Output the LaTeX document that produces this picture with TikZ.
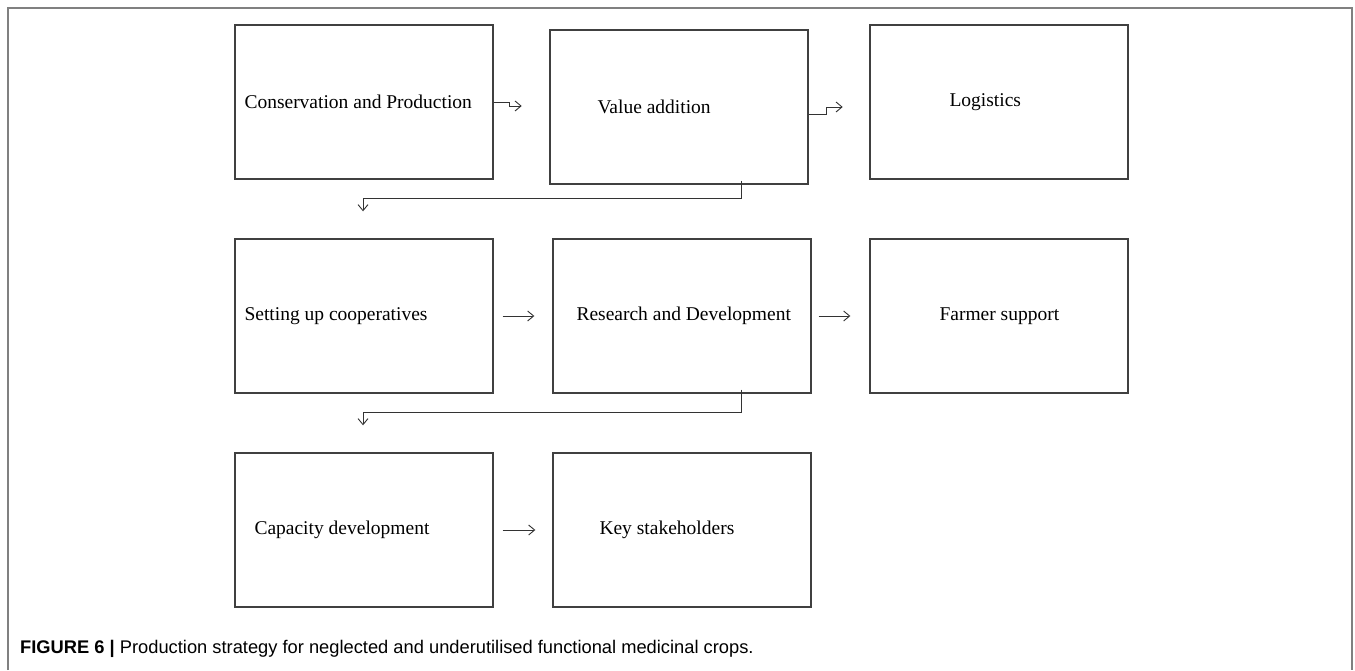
\documentclass[tikz,border=0pt]{standalone}
\usepackage{fontspec}
\setmainfont{Liberation Serif}
\newfontfamily\capfont{Liberation Sans}
\usetikzlibrary{arrows.meta, positioning}

\tikzset{
  box/.style={draw=black!75, line width=1.4pt, minimum width=258pt, minimum height=154pt, inner sep=0pt},
  lbl/.style={font=\fontsize{19.5}{23}\selectfont, inner sep=0pt},
  conn/.style={draw=black!80, line width=0.9pt},
  >={Straight Barb[length=6pt,width=10pt]}
}

\begin{document}
\begin{tikzpicture}[x=1pt,y=1pt]
\useasboundingbox (0,0) rectangle (1355,670);
% frame, open at the bottom
\draw[black!50, line width=1.5pt] (8,0) -- (8,662) -- (1352,662) -- (1352,0);

% row 1
\node[box] (cons) at (364,568) {};
\node[box] (value) at (679,563) {};
\node[box] (logi) at (999,568) {};
\node[lbl, right=10pt of cons.west] (consT) {Conservation and Production};
\node[lbl, right=48pt of value.west] (valueT) {Value addition};
\node[lbl, right=80pt of logi.west] (logiT) {Logistics};

% row 2
\node[box] (coop) at (364,354) {};
\node[box] (rnd) at (682,354) {};
\node[box] (farm) at (999,354) {};
\node[lbl, right=10pt of coop.west] (coopT) {Setting up cooperatives};
\node[lbl, right=24pt of rnd.west] (rndT) {Research and Development};
\node[lbl, right=70pt of farm.west] (farmT) {Farmer support};

% row 3
\node[box] (capa) at (364,140) {};
\node[box] (stake) at (682,140) {};
\node[lbl, right=20pt of capa.west] (capaT) {Capacity development};
\node[lbl, right=47pt of stake.west] (stakeT) {Key stakeholders};

% connectors
\coordinate (a1) at ([xshift=28pt,yshift=-4pt]cons.east);
\coordinate (a2) at ([xshift=34pt]value.east);
\draw[conn,->] (cons.east) -- ++(16,0) |- (a1);
\draw[conn,->] ([yshift=-7pt]value.east) -- ++(18,0) |- (a2);
\draw[conn,->] ([xshift=62pt,yshift=4pt]value.south) -- ++(0,-18) -| ([xshift=-1pt,yshift=27pt]coop.north);
\draw[conn,->] ([xshift=9pt]coop.east) -- ([xshift=-18pt]rnd.west);
\draw[conn,->] ([xshift=7pt]rnd.east) -- ([xshift=-19pt]farm.west);
\draw[conn,->] ([xshift=59pt,yshift=4pt]rnd.south) -- ++(0,-23) -| ([xshift=-1pt,yshift=27pt]capa.north);
\draw[conn,->] ([xshift=9pt]capa.east) -- ([xshift=-17pt]stake.west);

% caption
\node[anchor=base west, inner sep=0pt, font=\capfont\fontsize{18.3}{22}\selectfont] (cap) at (20,17)
  {\textbf{FIGURE 6 |} Production strategy for neglected and underutilised functional medicinal crops.};
\end{tikzpicture}
\end{document}
